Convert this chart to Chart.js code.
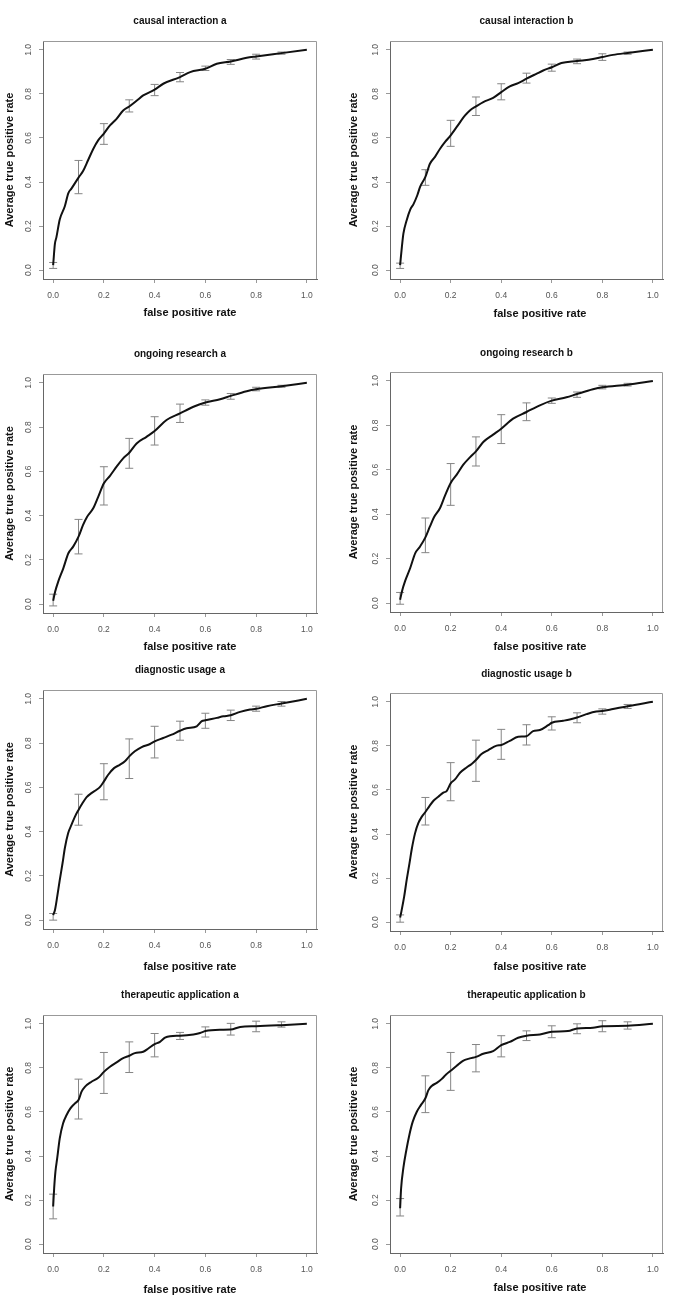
<!DOCTYPE html>
<html lang="en">
<head>
<meta charset="UTF-8">
<title>ROC curves</title>
<style>
  body { margin: 0; background: #fff; }
  #page { position: relative; width: 685px; height: 1305px; overflow: hidden; }
  #page canvas { position: absolute; }
</style>
</head>
<body>
<div id="page"></div>

<script src="https://cdn.jsdelivr.net/npm/chart.js"></script>
<script>
// ticks shared by both axes
const tickValues = [0, 0.2, 0.4, 0.6, 0.8, 1.0];
const tickLabels = ['0.0', '0.2', '0.4', '0.6', '0.8', '1.0'];
// false positive rates where the error bars sit
const errFpr = [0, 0.1, 0.2, 0.3, 0.4, 0.5, 0.6, 0.7, 0.8, 0.9];

// causal interaction a
const fprCausalA = [0, 0.007, 0.013, 0.026, 0.046, 0.06, 0.072, 0.1, 0.118, 0.138, 0.158, 0.178, 0.2, 0.224, 0.25, 0.276, 0.3, 0.33, 0.355, 0.4, 0.434, 0.5, 0.54, 0.6, 0.645, 0.7, 0.763, 0.8, 0.9, 1.0];
const tprCausalA = [0.023, 0.12, 0.15, 0.23, 0.29, 0.35, 0.37, 0.42, 0.45, 0.50, 0.55, 0.59, 0.62, 0.657, 0.687, 0.725, 0.743, 0.77, 0.793, 0.819, 0.846, 0.876, 0.899, 0.914, 0.937, 0.947, 0.964, 0.97, 0.985, 1.0];
const errLoCausalA = [0.008, 0.347, 0.571, 0.718, 0.792, 0.855, 0.906, 0.934, 0.958, 0.98];
const errHiCausalA = [0.035, 0.498, 0.665, 0.773, 0.843, 0.897, 0.926, 0.956, 0.98, 0.99];

// causal interaction b
const fprCausalB = [0, 0.007, 0.013, 0.026, 0.04, 0.053, 0.068, 0.079, 0.1, 0.118, 0.138, 0.158, 0.178, 0.2, 0.224, 0.257, 0.276, 0.3, 0.329, 0.368, 0.4, 0.434, 0.467, 0.5, 0.539, 0.566, 0.6, 0.638, 0.7, 0.763, 0.8, 0.842, 0.9, 1.0];
const tprCausalB = [0.023, 0.106, 0.166, 0.227, 0.275, 0.30, 0.34, 0.378, 0.423, 0.483, 0.514, 0.551, 0.582, 0.612, 0.65, 0.702, 0.725, 0.743, 0.763, 0.782, 0.808, 0.834, 0.849, 0.869, 0.891, 0.906, 0.921, 0.94, 0.949, 0.958, 0.967, 0.977, 0.986, 1.0];
const errLoCausalB = [0.008, 0.385, 0.562, 0.702, 0.773, 0.849, 0.903, 0.937, 0.952, 0.98];
const errHiCausalB = [0.032, 0.456, 0.68, 0.786, 0.846, 0.894, 0.935, 0.958, 0.982, 0.99];

// ongoing research a
const fprOngoingA = [0, 0.008, 0.02, 0.04, 0.06, 0.079, 0.1, 0.118, 0.134, 0.158, 0.178, 0.2, 0.224, 0.25, 0.276, 0.3, 0.329, 0.368, 0.4, 0.447, 0.5, 0.553, 0.6, 0.658, 0.7, 0.763, 0.8, 0.9, 1.0];
const tprOngoingA = [0.015, 0.057, 0.102, 0.162, 0.23, 0.26, 0.305, 0.358, 0.395, 0.433, 0.486, 0.546, 0.58, 0.621, 0.659, 0.684, 0.726, 0.756, 0.782, 0.832, 0.862, 0.892, 0.911, 0.926, 0.941, 0.962, 0.971, 0.985, 1.0];
const errLoOngoingA = [-0.008, 0.227, 0.448, 0.614, 0.719, 0.821, 0.899, 0.926, 0.964, 0.98];
const errHiOngoingA = [0.045, 0.383, 0.621, 0.749, 0.847, 0.904, 0.923, 0.952, 0.98, 0.989];

// ongoing research b
const fprOngoingB = [0, 0.008, 0.02, 0.04, 0.06, 0.079, 0.1, 0.118, 0.134, 0.158, 0.178, 0.2, 0.224, 0.25, 0.276, 0.3, 0.329, 0.368, 0.4, 0.447, 0.5, 0.553, 0.6, 0.658, 0.7, 0.763, 0.8, 0.9, 1.0];
const tprOngoingB = [0.015, 0.056, 0.10, 0.158, 0.225, 0.255, 0.296, 0.345, 0.386, 0.428, 0.485, 0.541, 0.578, 0.623, 0.656, 0.683, 0.725, 0.758, 0.785, 0.83, 0.86, 0.89, 0.911, 0.926, 0.941, 0.962, 0.971, 0.983, 1.0];
const errLoOngoingB = [-0.005, 0.227, 0.44, 0.617, 0.718, 0.821, 0.899, 0.926, 0.964, 0.977];
const errHiOngoingB = [0.048, 0.383, 0.628, 0.748, 0.848, 0.901, 0.923, 0.95, 0.98, 0.989];

// diagnostic usage a
const fprDiagA = [0, 0.007, 0.016, 0.026, 0.037, 0.046, 0.059, 0.072, 0.086, 0.1, 0.116, 0.132, 0.151, 0.171, 0.184, 0.2, 0.217, 0.24, 0.263, 0.283, 0.3, 0.322, 0.349, 0.382, 0.4, 0.434, 0.467, 0.5, 0.526, 0.566, 0.586, 0.6, 0.645, 0.671, 0.7, 0.737, 0.776, 0.8, 0.842, 0.9, 1.0];
const tprDiagA = [0.023, 0.045, 0.106, 0.181, 0.257, 0.325, 0.393, 0.43, 0.468, 0.498, 0.529, 0.556, 0.574, 0.589, 0.601, 0.627, 0.657, 0.687, 0.702, 0.718, 0.74, 0.763, 0.782, 0.796, 0.808, 0.823, 0.838, 0.856, 0.867, 0.876, 0.899, 0.903, 0.914, 0.921, 0.926, 0.941, 0.952, 0.955, 0.967, 0.979, 1.0];
const errLoDiagA = [0.0, 0.429, 0.544, 0.64, 0.733, 0.813, 0.867, 0.902, 0.944, 0.967];
const errHiDiagA = [0.03, 0.569, 0.707, 0.819, 0.876, 0.899, 0.935, 0.949, 0.967, 0.988];

// diagnostic usage b
const fprDiagB = [0, 0.005, 0.016, 0.026, 0.037, 0.046, 0.059, 0.072, 0.086, 0.1, 0.116, 0.132, 0.151, 0.171, 0.184, 0.2, 0.217, 0.237, 0.263, 0.283, 0.3, 0.322, 0.349, 0.382, 0.4, 0.434, 0.467, 0.5, 0.526, 0.553, 0.586, 0.6, 0.645, 0.671, 0.7, 0.737, 0.776, 0.8, 0.842, 0.9, 1.0];
const tprDiagB = [0.021, 0.048, 0.116, 0.192, 0.267, 0.331, 0.403, 0.449, 0.479, 0.5, 0.527, 0.551, 0.569, 0.588, 0.595, 0.63, 0.648, 0.678, 0.702, 0.718, 0.736, 0.763, 0.781, 0.801, 0.804, 0.823, 0.841, 0.844, 0.867, 0.872, 0.894, 0.905, 0.914, 0.92, 0.929, 0.944, 0.956, 0.958, 0.967, 0.98, 1.0];
const errLoDiagB = [0.0, 0.441, 0.551, 0.639, 0.739, 0.804, 0.872, 0.905, 0.944, 0.97];
const errHiDiagB = [0.033, 0.566, 0.724, 0.826, 0.875, 0.896, 0.932, 0.95, 0.968, 0.988];

// therapeutic application a
const fprTherA = [0, 0.004, 0.009, 0.016, 0.026, 0.039, 0.053, 0.068, 0.086, 0.1, 0.112, 0.125, 0.151, 0.178, 0.2, 0.224, 0.25, 0.274, 0.3, 0.322, 0.355, 0.375, 0.4, 0.421, 0.441, 0.461, 0.5, 0.553, 0.579, 0.6, 0.658, 0.7, 0.737, 0.8, 0.9, 1.0];
const tprTherA = [0.171, 0.254, 0.329, 0.39, 0.48, 0.548, 0.586, 0.616, 0.639, 0.654, 0.692, 0.714, 0.737, 0.755, 0.782, 0.805, 0.825, 0.843, 0.855, 0.867, 0.873, 0.888, 0.908, 0.918, 0.937, 0.944, 0.946, 0.952, 0.958, 0.967, 0.973, 0.974, 0.986, 0.989, 0.994, 1.0];
const errLoTherA = [0.115, 0.568, 0.684, 0.779, 0.85, 0.929, 0.94, 0.949, 0.964, 0.985];
const errHiTherA = [0.227, 0.749, 0.87, 0.918, 0.956, 0.961, 0.986, 1.002, 1.012, 1.009];

// therapeutic application b
const fprTherB = [0, 0.004, 0.013, 0.024, 0.037, 0.05, 0.066, 0.082, 0.1, 0.112, 0.125, 0.145, 0.164, 0.182, 0.2, 0.224, 0.247, 0.276, 0.3, 0.329, 0.368, 0.4, 0.434, 0.467, 0.5, 0.553, 0.6, 0.664, 0.7, 0.763, 0.8, 0.9, 1.0];
const tprTherB = [0.163, 0.254, 0.347, 0.423, 0.498, 0.556, 0.601, 0.631, 0.662, 0.699, 0.718, 0.732, 0.749, 0.77, 0.787, 0.81, 0.831, 0.843, 0.85, 0.864, 0.876, 0.903, 0.918, 0.937, 0.946, 0.952, 0.964, 0.967, 0.979, 0.982, 0.989, 0.991, 1.0];
const errLoTherB = [0.128, 0.597, 0.698, 0.782, 0.85, 0.924, 0.937, 0.955, 0.964, 0.976];
const errHiTherB = [0.207, 0.764, 0.87, 0.906, 0.946, 0.968, 0.991, 1.0, 1.014, 1.009];

const FONT = '"Liberation Sans", Arial, Helvetica, sans-serif';
Chart.defaults.font.family = FONT;

// two columns of panels
const cols = [
  { left: 0, width: 340, axisW: 43, padRight: 23, yTitlePad: 3.4, xShift: 10 },
  { left: 340, width: 345, axisW: 50, padRight: 22, yTitlePad: 7.4, xShift: 13.5 }
];

const panels = [
  { title: 'causal interaction a', fpr: fprCausalA, tpr: tprCausalA, lo: errLoCausalA, hi: errHiCausalA, col: 0, boxTop: 41, boxH: 238, titleGap: 20, xTitleGap: 34.3 },
  { title: 'causal interaction b', fpr: fprCausalB, tpr: tprCausalB, lo: errLoCausalB, hi: errHiCausalB, col: 1, boxTop: 41, boxH: 238, titleGap: 20, xTitleGap: 34.8 },
  { title: 'ongoing research a', fpr: fprOngoingA, tpr: tprOngoingA, lo: errLoOngoingA, hi: errHiOngoingA, col: 0, boxTop: 374, boxH: 239, titleGap: 19.7, xTitleGap: 33.7 },
  { title: 'ongoing research b', fpr: fprOngoingB, tpr: tprOngoingB, lo: errLoOngoingB, hi: errHiOngoingB, col: 1, boxTop: 372, boxH: 240, titleGap: 18.7, xTitleGap: 34.7 },
  { title: 'diagnostic usage a', fpr: fprDiagA, tpr: tprDiagA, lo: errLoDiagA, hi: errHiDiagA, col: 0, boxTop: 690, boxH: 239, titleGap: 19.3, xTitleGap: 37.7 },
  { title: 'diagnostic usage b', fpr: fprDiagB, tpr: tprDiagB, lo: errLoDiagB, hi: errHiDiagB, col: 1, boxTop: 693, boxH: 238, titleGap: 19, xTitleGap: 35.7 },
  { title: 'therapeutic application a', fpr: fprTherA, tpr: tprTherA, lo: errLoTherA, hi: errHiTherA, col: 0, boxTop: 1015, boxH: 238, titleGap: 20, xTitleGap: 37 },
  { title: 'therapeutic application b', fpr: fprTherB, tpr: tprTherB, lo: errLoTherB, hi: errHiTherB, col: 1, boxTop: 1015, boxH: 238, titleGap: 20, xTitleGap: 35.3 }
];

const TOP = 40, BOTTOM = 45;

// top and right edges of the plot box (left/bottom come from the axis borders)
const framePlugin = {
  id: 'frame',
  beforeDatasetsDraw(chart) {
    const { ctx, chartArea: a } = chart;
    ctx.save();
    ctx.strokeStyle = '#999';
    ctx.lineWidth = 1;
    ctx.beginPath();
    ctx.moveTo(Math.round(a.left), Math.round(a.top) + 0.5);
    ctx.lineTo(Math.round(a.right) - 0.5, Math.round(a.top) + 0.5);
    ctx.lineTo(Math.round(a.right) - 0.5, Math.round(a.bottom));
    ctx.stroke();
    ctx.restore();
  }
};

// x axis label, a bit right of the plot centre as in the original
const xLabelPlugin = {
  id: 'xLabel',
  afterDraw(chart, args, opts) {
    const { ctx, chartArea: a } = chart;
    ctx.save();
    ctx.font = 'bold 11px ' + FONT;
    ctx.fillStyle = '#111';
    ctx.textAlign = 'center';
    ctx.textBaseline = 'middle';
    ctx.fillText(opts.text, (a.left + a.right) / 2 + opts.shift, a.bottom + opts.gap);
    ctx.restore();
  }
};

const page = document.getElementById('page');

panels.forEach(p => {
  const c = cols[p.col];
  const h = TOP + p.boxH + BOTTOM;
  const canvas = document.createElement('canvas');
  canvas.width = c.width;
  canvas.height = h;
  canvas.style.left = c.left + 'px';
  canvas.style.top = (p.boxTop - TOP) + 'px';
  canvas.style.width = c.width + 'px';
  canvas.style.height = h + 'px';
  page.appendChild(canvas);

  const titleTop = TOP - p.titleGap - 6;

  const curve = p.fpr.map((x, i) => ({ x: x, y: p.tpr[i] }));
  const bars = [];
  errFpr.forEach((x, i) => {
    bars.push({ x: x, y: p.lo[i] }, { x: x, y: p.hi[i] }, { x: x, y: null });
  });

  new Chart(canvas, {
    type: 'scatter',
    data: {
      datasets: [
        {
          data: curve,
          showLine: true,
          borderColor: '#111',
          borderWidth: 2,
          pointRadius: 0,
          cubicInterpolationMode: 'monotone'
        },
        {
          data: bars,
          showLine: true,
          spanGaps: false,
          borderColor: '#858585',
          borderWidth: 1,
          pointStyle: 'line',
          pointRadius: 4,
          pointHoverRadius: 4,
          pointBorderColor: '#858585',
          pointBorderWidth: 1
        }
      ]
    },
    options: {
      responsive: false,
      animation: false,
      devicePixelRatio: 1,
      events: [],
      layout: { padding: { left: 0, right: c.padRight, top: 0, bottom: 0 } },
      plugins: {
        legend: { display: false },
        tooltip: { enabled: false },
        title: {
          display: true,
          text: p.title,
          fullSize: false,
          color: '#111',
          font: { size: 10, weight: 'bold' },
          padding: { top: titleTop, bottom: TOP - 12 - titleTop }
        },
        xLabel: { text: 'false positive rate', shift: c.xShift, gap: p.xTitleGap }
      },
      scales: {
        x: {
          type: 'linear',
          min: -0.04,
          max: 1.04,
          afterBuildTicks: s => { s.ticks = tickValues.map(v => ({ value: v })); },
          afterFit: s => { s.height = BOTTOM; },
          ticks: {
            autoSkip: false,
            maxRotation: 0,
            padding: 7.2,
            color: '#555',
            font: { size: 8.5 },
            callback: (v, i) => tickLabels[i]
          },
          grid: { drawOnChartArea: false, drawTicks: true, tickLength: 4, color: '#999' },
          border: { display: true, color: '#666' }
        },
        y: {
          type: 'linear',
          min: -0.04,
          max: 1.04,
          afterBuildTicks: s => { s.ticks = tickValues.map(v => ({ value: v })); },
          afterFit: s => { s.width = c.axisW; },
          ticks: {
            autoSkip: false,
            minRotation: 90,
            maxRotation: 90,
            crossAlign: 'center',
            padding: 4.1,
            color: '#555',
            font: { size: 8.5 },
            callback: (v, i) => tickLabels[i]
          },
          grid: { drawOnChartArea: false, drawTicks: true, tickLength: 4, color: '#999' },
          border: { display: true, color: '#666' },
          title: {
            display: true,
            text: 'Average true positive rate',
            color: '#111',
            font: { size: 11, weight: 'bold' },
            padding: { top: c.yTitlePad, bottom: 0 }
          }
        }
      }
    },
    plugins: [framePlugin, xLabelPlugin]
  });
});
</script>
</body>
</html>
